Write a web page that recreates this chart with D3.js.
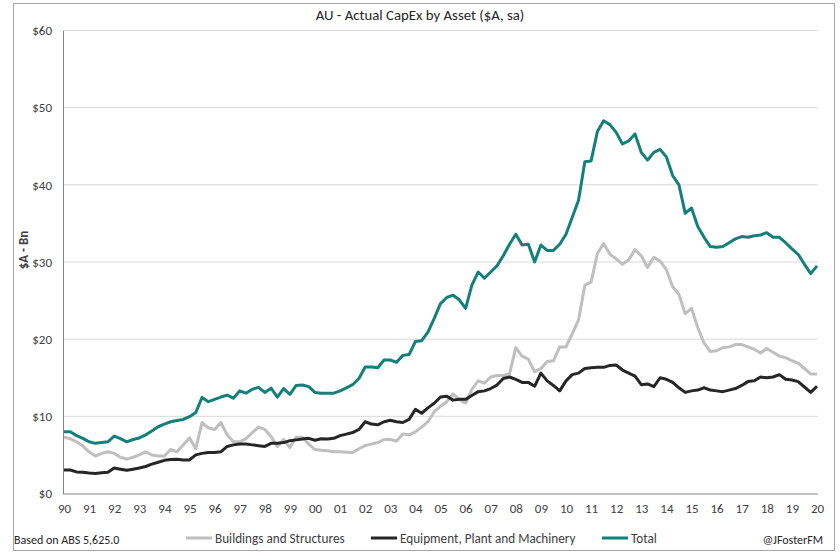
<!DOCTYPE html>
<html>
<head>
<meta charset="utf-8">
<script src="https://cdn.jsdelivr.net/npm/d3@7"></script>
<style>
  body { margin: 0; background: #fff; }
  text { font-family: Carlito, Lato, sans-serif; }
</style>
</head>
<body>
<div id="chart"></div>
<script>
// Year tick labels (each label sits on the Q1 point of that year)
const yearLabels = ["90","91","92","93","94","95","96","97","98","99","00","01","02","03","04",
                    "05","06","07","08","09","10","11","12","13","14","15","16","17","18","19","20"];

// Quarterly values, 1990 Q1 .. 2020 Q1, $A bn
const buildings = [
  7.3, 7.1, 6.7, 6.15, 5.4, 4.85, 5.2, 5.4, 5.2, 4.7, 4.45, 4.7, 5.0, 5.4, 5.0, 4.85, 4.85, 5.7, 5.4, 6.3, 7.2, 5.8, 9.2, 8.5, 8.3, 9.2,
  7.6, 6.7, 6.7, 7.1, 7.9, 8.6, 8.3, 7.4, 6.1, 7.0, 5.95, 7.3, 7.3, 6.4, 5.7, 5.6, 5.55, 5.4, 5.4, 5.35, 5.3, 5.8, 6.2, 6.4,
  6.6, 7.0, 7.0, 6.8, 7.7, 7.6, 8.0, 8.6, 9.3, 10.6, 11.3, 11.9, 12.9, 12.2, 11.7, 13.5, 14.6, 14.3, 15.1, 15.3, 15.3, 15.5, 18.9, 17.8,
  17.4, 15.8, 16.2, 17.1, 17.2, 19.0, 19.0, 20.7, 22.5, 27.0, 27.4, 31.1, 32.4, 31.0, 30.4, 29.7, 30.3, 31.6, 30.8, 29.3, 30.6, 30.1, 29.0,
  26.8, 25.8, 23.3, 24.0, 21.5, 19.5, 18.4, 18.5, 18.9, 19.0, 19.3, 19.3, 19.0, 18.7, 18.2, 18.8, 18.3, 17.8, 17.6, 17.2, 16.9, 16.2, 15.5, 15.5
];

const equipment = [
  3.05, 3.05, 2.8, 2.75, 2.65, 2.6, 2.7, 2.75, 3.3, 3.15, 3.0, 3.15, 3.3, 3.5, 3.8, 4.05, 4.3, 4.4, 4.45, 4.35, 4.35, 5.0, 5.2, 5.3, 5.3, 5.4,
  6.1, 6.3, 6.4, 6.4, 6.3, 6.2, 6.1, 6.5, 6.5, 6.6, 6.85, 6.95, 7.05, 7.15, 6.9, 7.1, 7.05, 7.15, 7.5, 7.7, 7.9, 8.3, 9.3, 9.0,
  8.9, 9.3, 9.5, 9.3, 9.2, 9.6, 10.9, 10.4, 11.1, 11.7, 12.5, 12.6, 12.1, 12.2, 12.2, 12.7, 13.2, 13.3, 13.6, 14.05, 14.9, 15.1, 14.8, 14.4,
  14.4, 13.9, 15.6, 14.6, 14.0, 13.3, 14.6, 15.4, 15.6, 16.2, 16.3, 16.35, 16.35, 16.6, 16.65, 16.0, 15.6, 15.2, 14.1, 14.2, 13.85, 15.0, 14.8,
  14.4, 13.7, 13.1, 13.3, 13.4, 13.7, 13.4, 13.3, 13.2, 13.4, 13.6, 14.0, 14.5, 14.6, 15.1, 15.0, 15.1, 15.4, 14.8, 14.7, 14.5, 13.8, 13.1, 13.9
];

const total = [
  8.0, 8.0, 7.5, 7.15, 6.7, 6.5, 6.6, 6.7, 7.45, 7.1, 6.7, 7.0, 7.2, 7.6, 8.1, 8.65, 9.0, 9.3, 9.45, 9.6, 9.95, 10.5, 12.45, 11.9, 12.2, 12.5,
  12.75, 12.35, 13.3, 13.0, 13.5, 13.75, 13.1, 13.65, 12.5, 13.6, 12.85, 14.0, 14.05, 13.85, 13.1, 13.0, 13.0, 13.0, 13.3, 13.7, 14.1, 14.9, 16.4, 16.4,
  16.3, 17.3, 17.3, 17.0, 17.9, 18.0, 19.7, 19.8, 20.9, 22.7, 24.6, 25.4, 25.7, 25.1, 24.0, 27.0, 28.7, 27.9, 28.7, 29.5, 30.8, 32.3, 33.6, 32.2,
  32.3, 30.0, 32.2, 31.5, 31.5, 32.3, 33.6, 35.8, 38.0, 43.0, 43.1, 46.9, 48.3, 47.8, 46.8, 45.3, 45.7, 46.6, 44.2, 43.2, 44.2, 44.6, 43.6,
  41.2, 40.0, 36.3, 37.0, 34.6, 33.2, 32.0, 31.9, 32.0, 32.5, 33.0, 33.3, 33.2, 33.4, 33.5, 33.8, 33.2, 33.2, 32.5, 31.7, 31.0, 29.7, 28.5, 29.5
];

const yTicks = [0, 10, 20, 30, 40, 50, 60];

const seriesNames = ["Buildings and Structures", "Equipment, Plant and Machinery", "Total"];
const seriesColors = ["#bfbfbf", "#262626", "#13807a"];

const W = 840, H = 556;
const plot = { left: 63, right: 817, top: 30.5, bottom: 493.5 };

const svg = d3.select("#chart").append("svg")
  .attr("width", W).attr("height", H);

// chart area frame
svg.append("rect")
  .attr("x", 13.5).attr("y", 3.5).attr("width", 821).attr("height", 547)
  .attr("fill", "#fff").attr("stroke", "#a6a6a6");

const x = d3.scaleLinear().domain([0, buildings.length - 1]).range([64, plot.right]);
const y = d3.scaleLinear().domain([0, 60]).range([plot.bottom, plot.top]);

// gridlines
svg.append("g")
  .selectAll("line")
  .data(yTicks.filter(d => d > 0))
  .enter().append("line")
    .attr("x1", plot.left).attr("x2", plot.right + 1)
    .attr("y1", d => y(d)).attr("y2", d => y(d))
    .attr("stroke", "#d9d9d9").attr("stroke-width", 1);

// Y axis
const yAxis = svg.append("g")
  .attr("transform", `translate(${plot.left},0)`)
  .call(d3.axisLeft(y).tickValues(yTicks).tickSize(0).tickPadding(11).tickFormat(d => "$" + d));
yAxis.select(".domain").attr("stroke", "#868686");
yAxis.selectAll("text").attr("fill", "#404040").style("font-size", "13px");

// X axis
const xAxis = svg.append("g")
  .attr("transform", `translate(0,${plot.bottom})`)
  .call(d3.axisBottom(x)
    .tickValues(yearLabels.map((d, i) => i * 4))
    .tickSize(0).tickPadding(10)
    .tickFormat((d, i) => yearLabels[i]));
xAxis.select(".domain").attr("stroke", "#868686").attr("d", `M${plot.left},0.5H${plot.right + 1}`);
xAxis.selectAll("text").attr("fill", "#404040").style("font-size", "13px");

// lines
const line = d3.line().x((d, i) => x(i)).y(d => y(d));
[buildings, equipment, total].forEach((s, k) => {
  svg.append("path")
    .datum(s)
    .attr("fill", "none")
    .attr("stroke", seriesColors[k])
    .attr("stroke-width", 3)
    .attr("stroke-linejoin", "round")
    .attr("d", line);
});

// title
svg.append("text")
  .attr("x", 420).attr("y", 20)
  .attr("text-anchor", "middle")
  .attr("fill", "#262626")
  .style("font-size", "14.8px")
  .text("AU - Actual CapEx by Asset ($A, sa)");

// y label
svg.append("text")
  .attr("transform", "translate(28,250) rotate(-90)")
  .attr("text-anchor", "middle")
  .attr("fill", "#404040")
  .style("font-size", "13px")
  .style("font-weight", "bold")
  .text("$A - Bn");

// legend
const legendX = [186, 371, 602];
const leg = svg.append("g").selectAll("g")
  .data(seriesNames)
  .enter().append("g")
    .attr("transform", (d, i) => `translate(${legendX[i]},538)`);
leg.append("line")
  .attr("x1", 0).attr("x2", 26)
  .attr("stroke", (d, i) => seriesColors[i]).attr("stroke-width", 3);
leg.append("text")
  .attr("x", 29).attr("y", 4.5)
  .attr("fill", "#404040")
  .style("font-size", "13.2px")
  .text(d => d);

// notes
svg.append("text")
  .attr("x", 14).attr("y", 544)
  .attr("fill", "#262626")
  .style("font-size", "12px")
  .text("Based on ABS 5,625.0");
svg.append("text")
  .attr("x", 823).attr("y", 544)
  .attr("text-anchor", "end")
  .attr("fill", "#262626")
  .style("font-size", "12px")
  .text("@JFosterFM");
</script>
</body>
</html>
